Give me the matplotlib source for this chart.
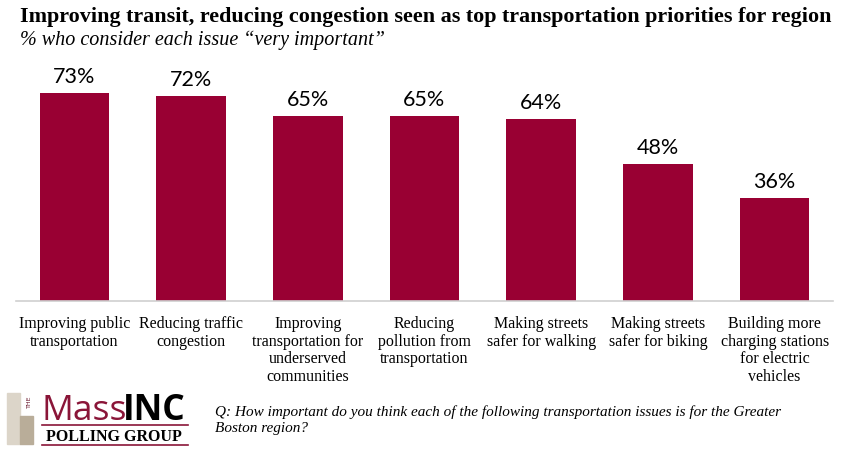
import numpy as np
import matplotlib.pyplot as plt
from matplotlib.patches import Rectangle

# data
categories = ["Improving public\ntransportation", "Reducing traffic\ncongestion",
              "Improving\ntransportation for\nunderserved\ncommunities",
              "Reducing\npollution from\ntransportation", "Making streets\nsafer for walking",
              "Making streets\nsafer for biking",
              "Building more\ncharging stations\nfor electric\nvehicles"]
pct_very_important = [73, 72, 65, 65, 64, 48, 36]

title = "Improving transit, reducing congestion seen as top transportation priorities for region"
subtitle = "% who consider each issue \u201cvery important\u201d"
question = ("Q: How important do you think each of the following transportation issues is for the Greater\n"
            "Boston region?")

bar_color = "#990033"
serif = "Liberation Serif"

W, H = 847, 452
fig = plt.figure(figsize=(W / 100, H / 100), dpi=100)

ax = fig.add_axes([16 / W, 150 / H, 817 / W, 228 / H])
x = np.arange(len(categories))
ax.bar(x, pct_very_important, width=0.595, color=bar_color)
ax.set_xlim(-0.5, len(categories) - 0.5)
ax.set_ylim(0, 80)
for s in ["top", "right", "left"]:
    ax.spines[s].set_visible(False)
ax.spines["bottom"].set_color("#d0d0d0")
ax.spines["bottom"].set_linewidth(1.2)
ax.set_yticks([])
ax.set_xticks(x)
ax.set_xticklabels(categories, fontsize=11.5, family=serif, linespacing=1.15, va="top")
ax.tick_params(axis="x", length=0, pad=10)

for xi, v in zip(x, pct_very_important):
    ax.annotate(f"{v}%", (xi, v), xytext=(0, 5), textcoords="offset points",
                ha="center", va="bottom", fontsize=15.5, family="Lato")

# title & subtitle
fig.text(20 / W, 1 - 17 / H, title, fontsize=15.9, fontweight="bold", family=serif, va="center")
fig.text(20 / W, 1 - 40 / H, subtitle, fontsize=14.5, style="italic", family=serif, va="center")

# question
fig.text(215 / W, 1 - 420 / H, question, fontsize=11, style="italic", family=serif,
         va="center", linespacing=1.3)

# logo
fig.patches.append(Rectangle((7 / W, 1 - 445 / H), 13 / W, 51 / H, transform=fig.transFigure,
                             color="#dcd5c9", zorder=1))
fig.patches.append(Rectangle((20 / W, 1 - 445 / H), 13 / W, 28 / H, transform=fig.transFigure,
                             color="#b9ad99", zorder=1))
fig.text(29 / W, 1 - 402 / H, "THE", fontsize=4.5, rotation=90, color="#6b1a2f",
         ha="center", va="center")
fig.text(41 / W, 1 - 420 / H, "Mass", fontsize=25.5, color="#8a1538", family="Open Sans",
         va="baseline")
fig.text(123 / W, 1 - 420 / H, "INC", fontsize=25.5, fontweight="bold", color="black",
         family="Open Sans", va="baseline")
fig.add_artist(plt.Line2D([42 / W, 188 / W], [1 - 426 / H, 1 - 426 / H], color="#8a1538", lw=1.2))
fig.add_artist(plt.Line2D([42 / W, 188 / W], [1 - 446 / H, 1 - 446 / H], color="#8a1538", lw=1.2))
fig.text(114 / W, 1 - 437.5 / H, "POLLING GROUP", fontsize=11.5, fontweight="bold", family=serif,
         ha="center", va="center")

fig.savefig("out.png", dpi=100)
